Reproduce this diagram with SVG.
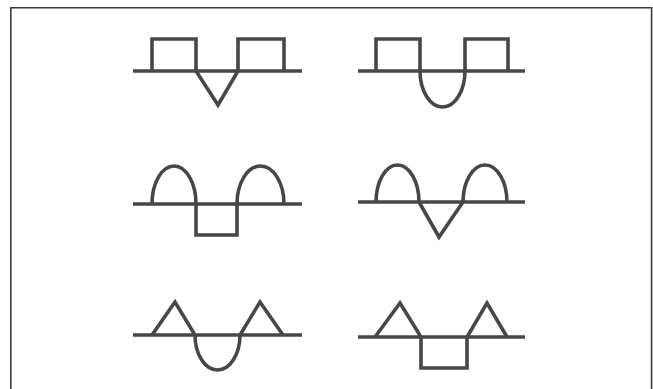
<svg xmlns="http://www.w3.org/2000/svg" width="653" height="389" viewBox="0 0 653 389">
<style>
.w{fill:none;stroke:#474747;stroke-width:3.6;stroke-linejoin:miter;stroke-linecap:butt}
.b{fill:none;stroke:#3a3a3a;stroke-width:1.6}
</style>
<rect width="653" height="389" fill="#fff"/>
<path class="b" d="M10.8,389 V7.8 H651.6 V389"/>
<g id="n1"><path class="w" d="M133,71 H302 M152,71 V39 H196 V71 L218,105 L238,71 V39 H284 V71"/></g>
<g id="n2"><path class="w" d="M358,71 H525 M376,71 V39 H420 V71 A22.5,36 0 0 0 465,71 V39 H508 V71"/></g>
<g id="n3"><path class="w" d="M133,204 H302 M152,204 A22,38 0 0 1 196,204 V235 H237 V204 A23.5,38 0 0 1 284,204"/></g>
<g id="n4"><path class="w" d="M358,202 H525 M376,202 A21.5,37 0 0 1 419,202 L439,237 L463,202 A22,37 0 0 1 507,202"/></g>
<g id="n5"><path class="w" d="M133,335 H302 M152,335 L175,302 L195,335 A22.5,35 0 0 0 240,335 L260,302 L283,335"/></g>
<g id="n6"><path class="w" d="M358,337 H525 M375,337 L400,303 L421,337 V368 H467 V337 L487,303 L507,337"/></g>
</svg>
